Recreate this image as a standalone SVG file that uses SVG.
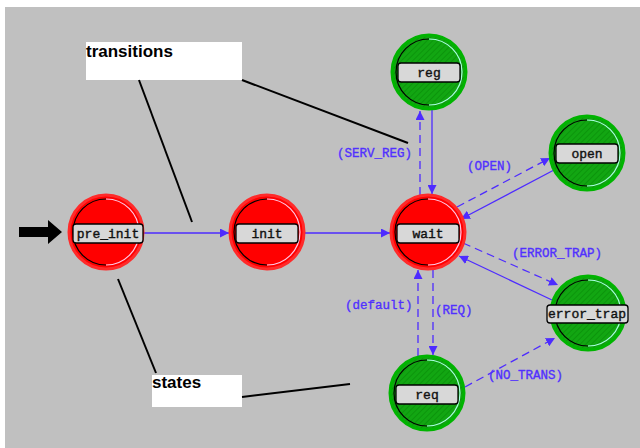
<svg xmlns="http://www.w3.org/2000/svg" width="640" height="448" viewBox="0 0 640 448">
  <defs>
    <style>
      .edge { fill: none; stroke: #4d2bff; stroke-width: 1.3; }
      .dash { stroke-dasharray: 8 5; }
      .elabel { font-family: "Liberation Mono", "DejaVu Sans Mono", monospace; font-size: 12.5px; fill: #5030ff; stroke: #5030ff; stroke-width: 0.35; }
      .nlabel { font-family: "Liberation Mono", "DejaVu Sans Mono", monospace; font-size: 13px; fill: #111; stroke: #111; stroke-width: 0.4; text-anchor: middle; }
      .box { fill: #d8d8d8; stroke: #000; stroke-width: 1.3; }
      .red { fill: #ff0000; stroke: #ff2a2a; stroke-width: 3; }
      .green { fill: url(#hatch); stroke: #00b400; stroke-width: 3; }
      .darkarc { fill: none; stroke: #000; stroke-width: 1.2; }
      .redhi { fill: none; stroke: #ffc8e6; stroke-width: 1.2; }
      .greenhi { fill: none; stroke: #a8ffe0; stroke-width: 1.2; }
      .note { fill: #fff; }
      .notetext { font-family: "Liberation Sans", Arial, sans-serif; font-size: 17px; font-weight: bold; fill: #000; }
      .leader { stroke: #000; stroke-width: 2; fill: none; }
    </style>
    <pattern id="hatch" width="4" height="4" patternUnits="userSpaceOnUse" patternTransform="rotate(45)">
      <rect width="4" height="4" fill="#12a612"/>
      <line x1="0" y1="0" x2="0" y2="4" stroke="#0a900a" stroke-width="1.5"/>
    </pattern>
    <marker id="arrow" viewBox="0 0 10 10" refX="10" refY="5" markerWidth="9" markerHeight="9" markerUnits="userSpaceOnUse" orient="auto">
      <path d="M0,0 L10,5 L0,10 z" fill="#4d2bff"/>
    </marker>
  </defs>

  <!-- canvas -->
  <rect x="0" y="0" width="640" height="448" fill="#fff"/>
  <rect x="5" y="7" width="635" height="441" fill="#c0c0c0"/>

  <!-- initial-state pointer -->
  <path d="M19,227 L48,227 L48,220 L62,232 L48,244 L48,237 L19,237 z" fill="#000"/>

  <!-- transitions -->
  <g id="connectors">
    <path class="edge" d="M143,233 L229,233" marker-end="url(#arrow)"/>
    <path class="edge" d="M305,233 L390,233" marker-end="url(#arrow)"/>
    <path class="edge" d="M432,110 L432,194" marker-end="url(#arrow)"/>
    <path class="edge dash" d="M420,195 L420,111" marker-end="url(#arrow)"/>
    <path class="edge dash" d="M457,207 L550,158" marker-end="url(#arrow)"/>
    <path class="edge" d="M554,170 L461,219" marker-end="url(#arrow)"/>
    <path class="edge dash" d="M463,243 L558,285" marker-end="url(#arrow)"/>
    <path class="edge" d="M552,300 L459,256" marker-end="url(#arrow)"/>
    <path class="edge dash" d="M433,270 L433,355" marker-end="url(#arrow)"/>
    <path class="edge dash" d="M418,356 L418,270" marker-end="url(#arrow)"/>
    <path class="edge dash" d="M465,387 L555,338" marker-end="url(#arrow)"/>

    <text class="elabel" x="337" y="157">(SERV_REG)</text>
    <text class="elabel" x="467" y="170">(OPEN)</text>
    <text class="elabel" x="512" y="257">(ERROR_TRAP)</text>
    <text class="elabel" x="345" y="309">(default)</text>
    <text class="elabel" x="435" y="314">(REQ)</text>
    <text class="elabel" x="488" y="379">(NO_TRANS)</text>
  </g>

  <!-- states -->
  <g id="pre_init" transform="translate(106,232)">
    <circle class="red" r="37"/>
    <path class="darkarc" d="M0,-33 A33,33 0 0 0 0,33"/>
    <path class="redhi" d="M0,-33 A33,33 0 0 1 0,33"/>
    <rect class="box" x="-33" y="-8" width="70" height="19" rx="3"/>
    <text class="nlabel" x="2" y="6">pre_init</text>
  </g>
  <g id="init" transform="translate(267,232)">
    <circle class="red" r="37"/>
    <path class="darkarc" d="M0,-33 A33,33 0 0 0 0,33"/>
    <path class="redhi" d="M0,-33 A33,33 0 0 1 0,33"/>
    <rect class="box" x="-31" y="-8" width="62" height="19" rx="3"/>
    <text class="nlabel" x="0" y="6">init</text>
  </g>
  <g id="wait" transform="translate(428,232)">
    <circle class="red" r="37"/>
    <path class="darkarc" d="M0,-33 A33,33 0 0 0 0,33"/>
    <path class="redhi" d="M0,-33 A33,33 0 0 1 0,33"/>
    <rect class="box" x="-31" y="-8" width="62" height="19" rx="3"/>
    <text class="nlabel" x="0" y="6">wait</text>
  </g>
  <g id="reg" transform="translate(429,72)">
    <circle class="green" r="37"/>
    <path class="darkarc" d="M0,-33 A33,33 0 0 0 0,33"/>
    <path class="greenhi" d="M0,-33 A33,33 0 0 1 0,33"/>
    <rect class="box" x="-31" y="-9" width="62" height="19" rx="3"/>
    <text class="nlabel" x="0" y="5">reg</text>
  </g>
  <g id="open" transform="translate(587,153)">
    <circle class="green" r="37"/>
    <path class="darkarc" d="M0,-33 A33,33 0 0 0 0,33"/>
    <path class="greenhi" d="M0,-33 A33,33 0 0 1 0,33"/>
    <rect class="box" x="-31" y="-9" width="62" height="19" rx="3"/>
    <text class="nlabel" x="0" y="5">open</text>
  </g>
  <g id="error_trap" transform="translate(588,313)">
    <circle class="green" r="37"/>
    <path class="darkarc" d="M0,-33 A33,33 0 0 0 0,33"/>
    <path class="greenhi" d="M0,-33 A33,33 0 0 1 0,33"/>
    <rect class="box" x="-41" y="-8" width="81" height="18" rx="3"/>
    <text class="nlabel" x="-1" y="5">error_trap</text>
  </g>
  <g id="req" transform="translate(427,393)">
    <circle class="green" r="37"/>
    <path class="darkarc" d="M0,-33 A33,33 0 0 0 0,33"/>
    <path class="greenhi" d="M0,-33 A33,33 0 0 1 0,33"/>
    <rect class="box" x="-31" y="-8" width="62" height="19" rx="3"/>
    <text class="nlabel" x="0" y="6">req</text>
  </g>

  <!-- annotations -->
  <g id="note-transitions">
    <rect class="note" x="86" y="42" width="156" height="38"/>
    <text class="notetext" x="86" y="57">transitions</text>
    <path class="leader" d="M139,80 L192,222"/>
    <path class="leader" d="M242,80 L408,143"/>
  </g>
  <g id="note-states">
    <rect class="note" x="152" y="375" width="90" height="32"/>
    <text class="notetext" x="152" y="388">states</text>
    <path class="leader" d="M118,279 L156,373"/>
    <path class="leader" d="M242,397 L350,384"/>
  </g>
</svg>
